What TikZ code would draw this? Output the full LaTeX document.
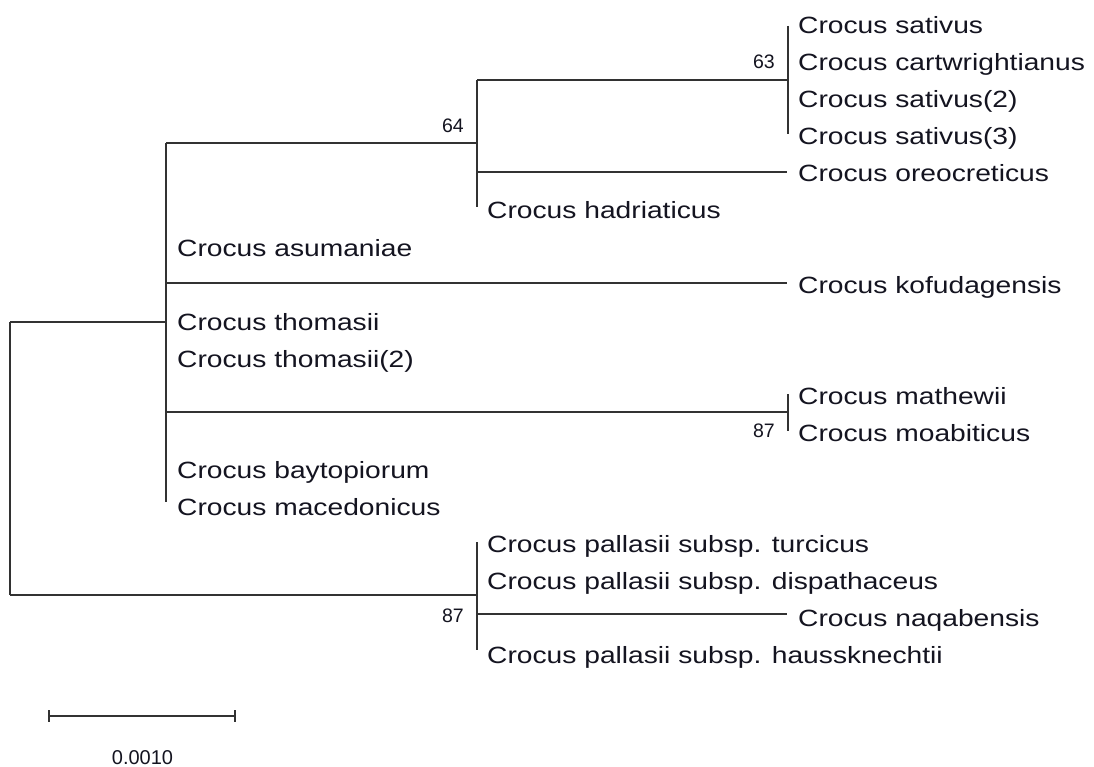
\documentclass[tikz,border=0pt]{standalone}
\usepackage{fontspec}
\setmainfont[FakeStretch=1.2]{Liberation Sans}
\newfontfamily\numfont{Liberation Sans}
\definecolor{linegray}{RGB}{50,50,50}
\definecolor{txt}{RGB}{20,20,32}
\begin{document}
\begin{tikzpicture}[x=1pt,y=-1pt,
  branch/.style={draw=linegray, line width=2pt},
  taxon/.style={anchor=base west, inner sep=0pt, text=txt, font=\fontsize{23.5}{28}\selectfont},
  boot/.style={anchor=east, inner sep=0pt, text=txt, font=\numfont\fontsize{19.5}{22}\selectfont},
  scalelbl/.style={anchor=center, inner sep=0pt, text=txt, font=\numfont\fontsize{20}{22}\selectfont}]
\useasboundingbox (0,0) rectangle (1094,767);
\fill[white] (0,0) rectangle (1094,767);
% internal node coordinates
\coordinate (r1) at (10,322);
\coordinate (r2) at (10,595);
\coordinate (A) at (166,322);
\coordinate (At) at (166,143);
\coordinate (Ab) at (166,502);
\coordinate (B) at (477,143);
\coordinate (Bt) at (477,80);
\coordinate (Bb) at (477,207);
\coordinate (C) at (788,80);
\coordinate (Ct) at (788,26);
\coordinate (Cb) at (788,134);
\coordinate (Bore) at (477,172);
\coordinate (oreEnd) at (787,172);
\coordinate (Akof) at (166,283);
\coordinate (kofEnd) at (787,283);
\coordinate (AD) at (166,412);
\coordinate (D) at (788,412);
\coordinate (Dt) at (788,394);
\coordinate (Db) at (788,431);
\coordinate (E) at (477,595);
\coordinate (Et) at (477,542);
\coordinate (Eb) at (477,650);
\coordinate (Enaq) at (477,614);
\coordinate (naqEnd) at (787,614);
% branches
\draw[branch] (r1) -- (r2);
\draw[branch] (r1) -- (A);
\draw[branch] (r2) -- (E);
\draw[branch] (At) -- (Ab);
\draw[branch] (At) -- (B);
\draw[branch] (Bt) -- (Bb);
\draw[branch] (Bt) -- (C);
\draw[branch] (Ct) -- (Cb);
\draw[branch] (Bore) -- (oreEnd);
\draw[branch] (Akof) -- (kofEnd);
\draw[branch] (AD) -- (D);
\draw[branch] (Dt) -- (Db);
\draw[branch] (Et) -- (Eb);
\draw[branch] (Enaq) -- (naqEnd);
% taxa
\node[taxon] (t0) at (798,34) {Crocus sativus};
\node[taxon] (t1) at (798,71) {Crocus cartwrightianus};
\node[taxon] (t2) at (798,108) {Crocus sativus(2)};
\node[taxon] (t3) at (798,145) {Crocus sativus(3)};
\node[taxon] (t4) at (798,182) {Crocus oreocreticus};
\node[taxon] (t5) at (487,219) {Crocus hadriaticus};
\node[taxon] (t6) at (177,256) {Crocus asumaniae};
\node[taxon] (t7) at (798,293) {Crocus kofudagensis};
\node[taxon] (t8) at (177,330) {Crocus thomasii};
\node[taxon] (t9) at (177,367) {Crocus thomasii(2)};
\node[taxon] (t10) at (798,404) {Crocus mathewii};
\node[taxon] (t11) at (798,441) {Crocus moabiticus};
\node[taxon] (t12) at (177,478) {Crocus baytopiorum};
\node[taxon] (t13) at (177,515) {Crocus macedonicus};
\node[taxon] (t14) at (487,552) {Crocus pallasii subsp. turcicus};
\node[taxon] (t15) at (487,589) {Crocus pallasii subsp. dispathaceus};
\node[taxon] (t16) at (798,626) {Crocus naqabensis};
\node[taxon] (t17) at (487,663) {Crocus pallasii subsp. haussknechtii};
% bootstrap values
\node[boot] (b63) at (775,62) {63};
\node[boot] (b64) at (464,125.5) {64};
\node[boot] (b87a) at (775,430.5) {87};
\node[boot] (b87b) at (464,615.5) {87};
% scale bar
\coordinate (s1) at (49,716);
\coordinate (s2) at (235,716);
\coordinate (s1t) at (49,710);
\coordinate (s1b) at (49,722);
\coordinate (s2t) at (235,710);
\coordinate (s2b) at (235,722);
\draw[branch] (s1) -- (s2);
\draw[branch] (s1t) -- (s1b);
\draw[branch] (s2t) -- (s2b);
\node[scalelbl] (scale) at (142.5,757.5) {0.0010};
\end{tikzpicture}
\end{document}
